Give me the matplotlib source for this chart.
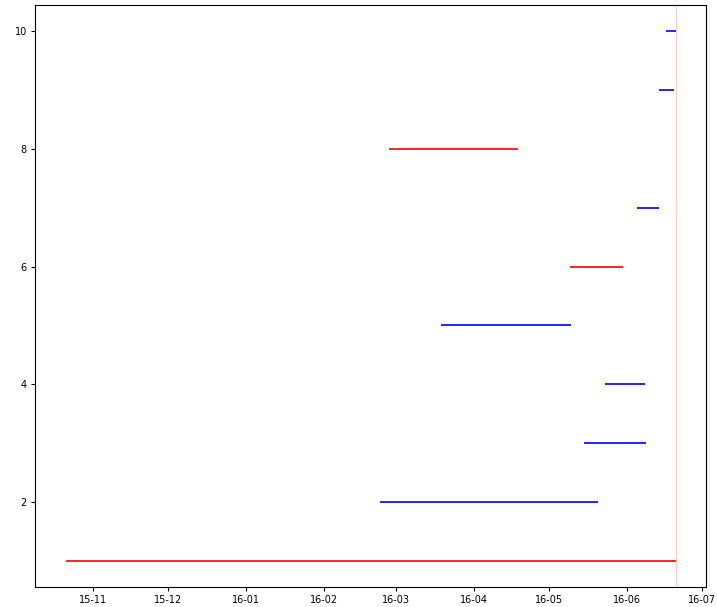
import numpy as np
import pandas as pd
import matplotlib
matplotlib.use('Agg')
import matplotlib.pyplot as plt
import matplotlib.dates as mdates

# one horizontal span per row: start, end, colour
rows = [1, 2, 3, 4, 5, 6, 7, 8, 9, 10]
starts = ['2015-10-21 00:00', '2016-02-23 08:00', '2016-05-15 00:00', '2016-05-23 08:00', '2016-03-19 00:00',
          '2016-05-09 10:00', '2016-06-05 00:00', '2016-02-27 05:00', '2016-06-13 20:00', '2016-06-16 15:00']
ends = ['2016-06-20 15:00', '2016-05-20 12:00', '2016-06-08 17:00', '2016-06-08 08:00', '2016-05-09 20:00',
        '2016-05-30 12:00', '2016-06-13 20:00', '2016-04-18 15:00', '2016-06-19 20:00', '2016-06-20 15:00']
colors = ['r', 'b', 'b', 'b', 'b', 'r', 'b', 'r', 'b', 'b']

t0 = pd.to_datetime(starts, format='%Y-%m-%d %H:%M')
t1 = pd.to_datetime(ends, format='%Y-%m-%d %H:%M')

fig = plt.figure(figsize=(7.17, 6.07), dpi=100)
ax = fig.add_subplot(111)
fig.subplots_adjust(left=0.049, right=0.985, top=0.992, bottom=0.033)

ax.hlines(rows, t0, t1, colors=colors, lw=1.2)
ax.axvline(t1.max(), color='r', alpha=0.2, lw=0.8)

ax.xaxis.set_major_locator(mdates.MonthLocator())
ax.xaxis.set_major_formatter(mdates.DateFormatter('%y-%m'))
ax.tick_params(labelsize=7, length=3, pad=3)

fig.savefig('out.png')
